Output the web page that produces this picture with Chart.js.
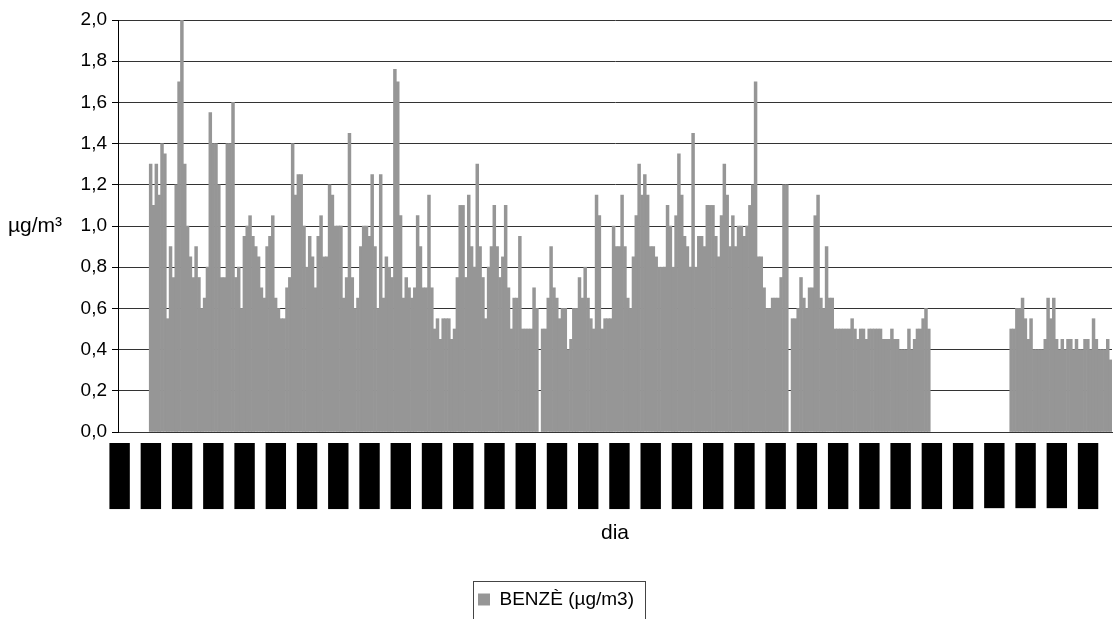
<!DOCTYPE html>
<html>
<head>
<meta charset="utf-8">
<script src="https://cdn.jsdelivr.net/npm/chart.js@4.4.1/dist/chart.umd.min.js"></script>
<style>
html,body{margin:0;padding:0;background:#fff;}
#wrap{width:1115px;height:619px;position:relative;}
</style>
</head>
<body>
<div id="wrap"><canvas id="c"></canvas></div>
<script>
// ---- text ----
const seriesLabel = 'BENZÈ (µg/m3)';
const yTitle = 'µg/m³';
const xTitle = 'dia';
const yTickLabels = ['0,0','0,2','0,4','0,6','0,8','1,0','1,2','1,4','1,6','1,8','2,0'];

// ---- categories: one per day ----
const startDate = [2008, 0, 1];
const dayCount = 350;
const labelEvery = 11;
const categories = [];
for (let i = 0; i < dayCount; i++) {
  const d = new Date(Date.UTC(startDate[0], startDate[1], startDate[2] + i));
  const dd = String(d.getUTCDate()).padStart(2, '0');
  const mm = String(d.getUTCMonth() + 1).padStart(2, '0');
  categories.push(dd + '/' + mm + '/' + d.getUTCFullYear());
}

// ---- daily benzene values (µg/m3), null = no data ----
const benzene = [
  null,null,null,null,null,null,null,null,null,null,
  null,1.3,1.1,1.3,1.15,1.4,1.35,0.55,0.9,0.75,
  1.2,1.7,2.0,1.3,1.0,0.85,0.75,0.9,0.75,0.6,
  0.65,0.8,1.55,1.4,1.4,1.2,0.75,0.75,1.4,1.4,
  1.6,0.75,0.8,0.6,0.95,1.0,1.05,0.95,0.9,0.85,
  0.7,0.65,0.9,0.95,1.05,0.65,0.6,0.55,0.55,0.7,
  0.75,1.4,1.15,1.25,1.25,1.0,0.8,0.95,0.85,0.7,
  0.95,1.05,0.85,0.85,1.2,1.15,1.0,1.0,1.0,0.65,
  0.75,1.45,0.75,0.6,0.65,0.9,1.0,1.0,0.95,1.25,
  0.9,0.6,1.25,0.65,0.85,0.8,0.75,1.76,1.7,1.05,
  0.65,0.75,0.7,0.65,0.7,1.05,0.9,0.7,0.7,1.15,
  0.7,0.5,0.55,0.45,0.55,0.55,0.55,0.45,0.5,0.75,
  1.1,1.1,0.75,1.15,0.9,0.8,1.3,0.9,0.75,0.55,
  0.8,0.9,1.1,0.9,0.75,0.85,1.1,0.7,0.5,0.65,
  0.65,0.95,0.5,0.5,0.5,0.5,0.7,0.6,null,0.5,
  0.5,0.65,0.9,0.7,0.65,0.55,0.6,0.6,0.4,0.45,
  0.6,0.6,0.75,0.65,0.8,0.65,0.55,0.5,1.15,1.05,
  0.5,0.55,0.55,0.55,1.0,0.9,0.9,1.15,0.9,0.65,
  0.6,0.85,1.05,1.3,1.15,1.25,1.15,0.9,0.9,0.85,
  0.8,0.8,0.8,1.1,1.0,0.8,1.05,1.35,1.15,0.95,
  0.9,0.8,1.45,0.8,0.95,0.95,0.9,1.1,1.1,1.1,
  0.95,0.85,1.05,1.3,1.15,0.9,1.05,0.9,1.0,1.0,
  0.95,1.0,1.1,1.2,1.7,0.85,0.85,0.7,0.6,0.6,
  0.65,0.65,0.65,0.75,1.2,1.2,null,0.55,0.55,0.6,
  0.75,0.65,0.6,0.7,0.7,1.05,1.15,0.65,0.6,0.9,
  0.65,0.65,0.5,0.5,0.5,0.5,0.5,0.5,0.55,0.5,
  0.45,0.5,0.5,0.45,0.5,0.5,0.5,0.5,0.5,0.45,
  0.45,0.45,0.5,0.45,0.45,0.4,0.4,0.4,0.5,0.4,
  0.45,0.5,0.5,0.55,0.6,0.5,null,null,null,null,
  null,null,null,null,null,null,null,null,null,null,
  null,null,null,null,null,null,null,null,null,null,
  null,null,null,null,0.5,0.5,0.6,0.6,0.65,0.55,
  0.45,0.55,0.4,0.4,0.4,0.4,0.45,0.65,0.55,0.65,
  0.45,0.4,0.45,0.4,0.45,0.45,0.4,0.45,0.4,0.4,
  0.45,0.45,0.4,0.55,0.45,0.4,0.4,0.4,0.45,0.35
];

const FONT = '"Liberation Sans", Arial, Helvetica, sans-serif';

const decor = {
  id: 'decor',
  afterDraw(chart) {
    const {ctx, chartArea} = chart;
    ctx.save();
    ctx.font = '21px ' + FONT;
    ctx.fillStyle = '#000';
    ctx.textAlign = 'left';
    ctx.textBaseline = 'middle';
    ctx.fillText(yTitle, 8, (chartArea.top + chartArea.bottom) / 2);
    const hb = chart.legend && chart.legend.legendHitBoxes && chart.legend.legendHitBoxes[0];
    if (hb) {
      ctx.strokeStyle = '#444';
      ctx.lineWidth = 1;
      ctx.strokeRect(Math.round(hb.left - 5) + 0.5, Math.round(hb.top - 9) + 0.5,
                     Math.round(hb.width + 16), 60);
    }
    ctx.restore();
  }
};

new Chart(document.getElementById('c'), {
  type: 'bar',
  data: {
    labels: categories,
    datasets: [{
      label: seriesLabel,
      data: benzene,
      backgroundColor: '#969696',
      borderWidth: 0,
      barPercentage: 1.0,
      categoryPercentage: 1.0
    }]
  },
  options: {
    responsive: true,
    maintainAspectRatio: false,
    animation: false,
    layout: { padding: { top: 20, right: 3, bottom: 0, left: 0 } },
    plugins: {
      tooltip: { enabled: false },
      legend: {
        position: 'bottom',
        labels: {
          font: { family: FONT, size: 19 },
          color: '#000',
          boxWidth: 12,
          boxHeight: 12,
          padding: 10
        }
      }
    },
    scales: {
      x: {
        grid: { display: false, drawTicks: false },
        border: { display: true, color: '#333' },
        ticks: {
          autoSkip: false,
          minRotation: 90,
          maxRotation: 90,
          padding: 14,
          labelOffset: -7,
          color: '#000',
          font: { family: FONT, size: 12 },
          showLabelBackdrop: (c) => c.index % labelEvery === 0,
          backdropColor: '#000',
          backdropPadding: 3,
          callback: function (value, index) {
            return index % labelEvery === 0 ? this.getLabelForValue(value) : '';
          }
        },
        title: {
          display: true,
          text: xTitle,
          color: '#000',
          font: { family: FONT, size: 21 },
          padding: { top: 0, bottom: 34 }
        },
        afterFit: (s) => { s.height = 148; s.paddingLeft = 0; s.paddingRight = 0; }
      },
      y: {
        min: 0,
        max: 2,
        grid: { color: '#333', tickColor: '#000', tickLength: 6, drawTicks: true },
        border: { display: true, color: '#000' },
        ticks: {
          stepSize: 0.2,
          padding: 5,
          color: '#000',
          font: { family: FONT, size: 19 },
          callback: (v) => yTickLabels[Math.round(v / 0.2)]
        },
        afterFit: (s) => { s.width = 118; }
      }
    }
  },
  plugins: [decor]
});
</script>
</body>
</html>
